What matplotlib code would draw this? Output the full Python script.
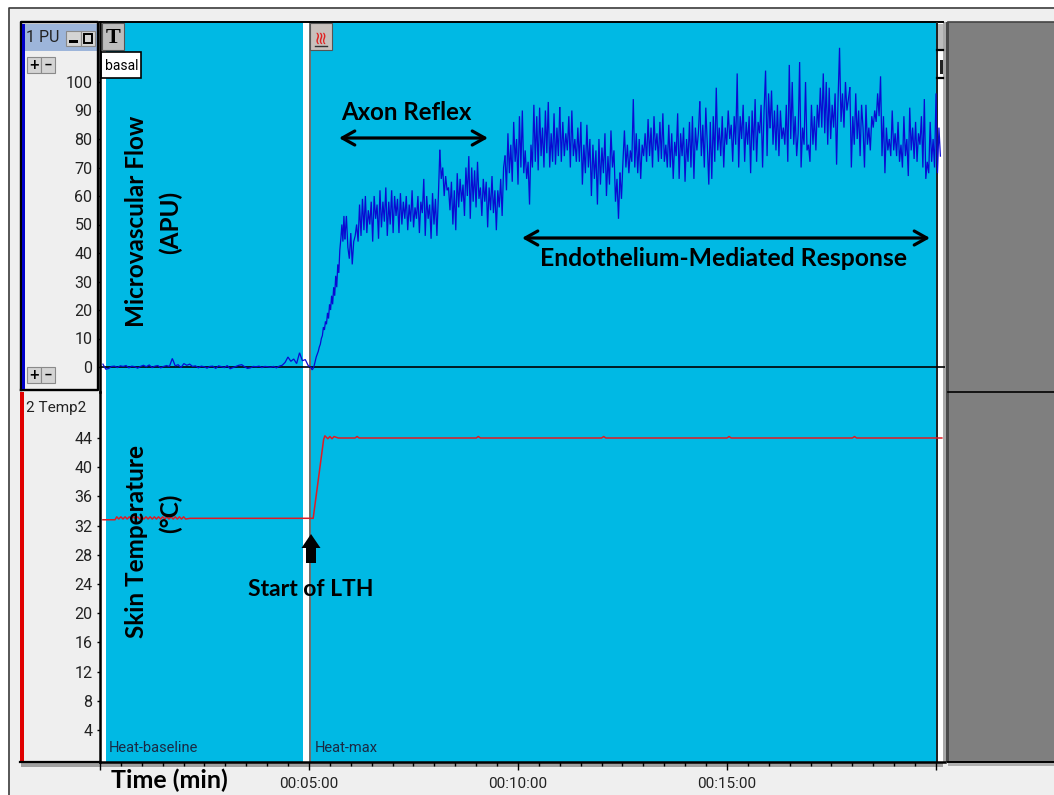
import numpy as np
import matplotlib
matplotlib.use("Agg")
import matplotlib.pyplot as plt
from matplotlib.patches import Rectangle, FancyArrow

W, H = 1054, 795

# ---------- data (minutes, APU, deg C) ----------
flow_ticks = [0, 10, 20, 30, 40, 50, 60, 70, 80, 90, 100]
temp_ticks = [4, 8, 12, 16, 20, 24, 28, 32, 36, 40, 44]
time_major = [0, 5, 10, 15, 20]
time_labels = ["", "00:05:00", "00:10:00", "00:15:00", ""]

segment_edges = [0.07, 5.05, 5.86, 8.13, 9.69, 11.0, 12.44, 14.35, 16.03, 17.94, 20.14]

flow_baseline = [1.0, -0.8, -0.5, 0.2, 0.3, -0.2, 0.4, 0.2, 0.5, -0.3, 0.3, 0.1, -0.4, 0.2, 0.6, 0.1,
                 0.7, -0.2, 0.3, 0.5, -0.3, 0.2, 0.5, 0.2, 3.0, 0.4, 0.8, -0.2, 1.2, 0.6, 1.0, 0.2,
                 0.4, -0.3, 0.3, 0.1, -0.4, 0.2, 0.3, -0.5, 0.4, 0.1, -0.2, 0.5, -0.6, -0.2, 0.2, 0.6,
                 0.8, 0.1, -0.5, -0.3, 0.2, 0.1, 0.3, -0.2, 0.2, 0.1, -0.1, 0.2, -0.3, 0.3, 0.6, 1.6,
                 3.5, 2.0, 2.8, 1.2, 5.0, 2.2, 2.6, 0.5]
flow_rise = [-0.2, -1.0, -0.5, 0.5, 2.0, 3.5, 4.5, 5.5, 7.0, 8.0, 10.0, 11.0, 14.0, 13.0, 16.0, 15.0,
             19.0, 17.0, 22.0, 20.0, 25.0, 22.0, 28.0, 25.0, 32.0, 28.0, 36.0, 33.0, 41.0, 45.0, 50.0, 44.0, 53.0]
flow_plateau = [45, 53, 42, 38, 47, 36, 44, 46, 50, 44, 57, 46, 59, 48, 60, 47, 55, 50, 58, 44, 60, 52, 57, 45,
                62, 49, 58, 51, 63, 46, 58, 50, 62, 47, 60, 53, 59, 47, 61, 50, 58, 52, 60, 48, 57, 51, 62, 49,
                56, 52, 60, 47, 58, 54, 66, 46, 60, 52, 57, 45, 61, 50, 59, 46, 60]
flow_axon = [76, 66, 70, 60, 67, 62, 63, 55, 65, 50, 62, 48, 68, 56, 66, 58, 64, 53, 70, 60, 74, 52, 70, 58,
             69, 56, 72, 59, 63, 53, 66, 58, 65, 49, 63, 55, 67, 54, 62, 48, 62, 56, 66, 53, 70]
flow_peak = [74, 62, 82, 68, 78, 65, 86, 72, 80, 64, 88, 70, 90, 68, 76, 66, 72, 57, 78, 70, 92, 72, 88, 69,
             91, 74, 84, 70, 90, 75, 93, 70, 82, 72, 89, 71, 84, 74]
flow_dip = [91, 72, 86, 74, 82, 76, 88, 70, 90, 74, 80, 72, 84, 72, 86, 64, 78, 68, 85, 70, 80, 60, 78, 66,
            76, 57, 80, 64, 77, 68, 82, 60, 74, 64, 83, 70, 76, 58, 66, 52]
flow_climb = [68, 59, 72, 83, 70, 78, 68, 76, 72, 94, 70, 82, 68, 80, 66, 78, 74, 82, 72, 87, 74, 84, 70, 88,
              76, 82, 72, 86, 73, 89, 72, 78, 70, 85, 70, 82, 66, 79, 74, 89, 66, 82, 74, 84, 65, 80, 72, 86,
              70, 88, 66, 84, 76, 82]
flow_rising = [93, 74, 85, 70, 91, 78, 64, 86, 66, 88, 72, 98, 76, 84, 74, 88, 70, 84, 78, 90, 80, 85, 72, 88,
               78, 103, 70, 88, 80, 92, 72, 86, 78, 88, 68, 90, 76, 94, 72, 86, 82, 92, 70, 90, 104, 74, 96]
flow_top = [84, 97, 78, 90, 76, 92, 74, 90, 80, 84, 78, 92, 72, 106, 80, 100, 78, 88, 74, 82, 107, 70, 84, 78,
            100, 76, 78, 72, 92, 78, 88, 76, 92, 84, 98, 84, 103, 82, 100, 78, 98, 80, 92, 84, 96, 71, 94, 112,
            86, 96, 84, 100, 90, 94]
flow_end = [98, 70, 88, 78, 96, 80, 90, 74, 92, 84, 70, 92, 78, 84, 76, 88, 84, 90, 86, 96, 88, 102, 74, 88,
            68, 84, 76, 80, 74, 90, 76, 82, 74, 86, 72, 78, 70, 88, 74, 80, 67, 91, 76, 84, 73, 86, 72, 82,
            78, 88, 70, 94, 66, 72, 68, 86, 72, 80, 70, 96, 68, 84, 74]
flow_segments = [flow_baseline, flow_rise, flow_plateau, flow_axon, flow_peak, flow_dip,
                 flow_climb, flow_rising, flow_top, flow_end]

temp_minutes = [0.07, 0.36, 0.40, 0.45, 0.50, 0.55, 0.60, 0.65, 0.70, 0.75, 0.80, 0.85, 0.90, 0.95, 1.00, 1.05,
                1.10, 1.15, 1.20, 1.25, 1.30, 1.35, 1.40, 1.45, 1.50, 1.55, 1.60, 1.65, 1.70, 1.75, 1.80, 1.85,
                1.90, 1.95, 2.00, 2.05, 2.15, 5.10, 5.35, 5.38, 5.45, 5.50, 5.55, 5.60, 5.70, 5.75, 6.10, 6.15,
                6.20, 9.00, 9.05, 9.10, 12.00, 12.05, 12.10, 15.00, 15.05, 15.10, 18.00, 18.05, 18.10, 20.14]
temp_values = [32.8, 32.8, 33.2, 32.9, 33.2, 32.9, 33.2, 32.9, 33.2, 32.9, 33.2, 32.9, 33.2, 32.9, 33.2, 32.9,
               33.2, 32.9, 33.2, 32.9, 33.2, 32.9, 33.2, 32.9, 33.2, 32.9, 33.2, 32.9, 33.2, 32.9, 33.2, 32.9,
               33.2, 32.9, 33.2, 32.9, 33.0, 33.0, 43.8, 44.3, 43.9, 44.2, 43.9, 44.2, 44.0, 44.0, 44.0, 44.2,
               44.0, 44.0, 44.2, 44.0, 44.0, 44.2, 44.0, 44.0, 44.2, 44.0, 44.0, 44.2, 44.0, 44.0]

# ---------- style ----------
NARROW = ["Roboto", "Liberation Sans", "DejaVu Sans"]
BOLD = ["Lato", "Open Sans", "DejaVu Sans"]
CYAN = "#00B9E4"
PANEL = "#EFEFEF"
BLUE = "#0A0AD2"
RED = "#E01B24"


def box(x0, y0, x1, y1):
    return [x0 / W, 1 - y1 / H, (x1 - x0) / W, (y1 - y0) / H]


fig = plt.figure(figsize=(W / 100, H / 100), dpi=100, facecolor="white")

# ---------- window chrome, in pixel coordinates ----------
bg = fig.add_axes([0, 0, 1, 1], zorder=0)
bg.set_xlim(0, W)
bg.set_ylim(H, 0)
bg.axis("off")


def rect(a, x0, y0, x1, y1, color, z=1, **kw):
    a.add_patch(Rectangle((x0, y0), x1 - x0, y1 - y0, facecolor=color, edgecolor=kw.pop("ec", "none"),
                          linewidth=kw.pop("lw", 0), zorder=z, **kw))


rect(bg, 10, 9, W, H, PANEL)
bg.plot([9, 9, W], [H, 8, 8], color="#3a3a3a", lw=1.2, zorder=2)
rect(bg, 102, 22, 936, 762, "white")
rect(bg, 106, 22, 303, 762, CYAN, z=2)
rect(bg, 311, 22, 936, 762, CYAN, z=2)
rect(bg, 309, 22, 311, 762, "#6e6e6e", z=3)
rect(bg, 938, 22, 943, 762, "white", z=2)
rect(bg, 943, 22, 947, 762, "#A8A8A8", z=2)
rect(bg, 948, 22, W, 762, "#7F7F7F", z=2)
rect(bg, 946, 22, 949, 762, "#4a4a4a", z=3)
bg.plot([100, 943], [22, 22], color="black", lw=1.4, zorder=4)
bg.plot([948, W], [22, 22], color="#444444", lw=1.2, zorder=4)
bg.plot([948, W], [392, 392], color="black", lw=1.2, zorder=4)
bg.plot([948, W], [762, 762], color="black", lw=1.4, zorder=4)
rect(bg, 21, 763, 943, 767, "#A0A0A0", z=2)
rect(bg, 948, 763, W, 766, "#B0B0B0", z=2)
rect(bg, 936, 22, 938, 762, "#222222", z=4)
rect(bg, 938, 24, 943, 50, "#BDBDBD", z=4)
bg.plot([937, 943], [50, 50], color="black", lw=1.6, zorder=5)
bg.plot([937, 943], [78, 78], color="black", lw=1.6, zorder=5)
rect(bg, 940, 60, 943, 74, "#222222", z=5)

# left label columns
rect(bg, 23, 24, 97, 51, "#9DB5DA", z=2)
rect(bg, 22, 24, 25, 389, "#0000C8", z=5)
rect(bg, 20, 392, 23.5, 762, "#E00000", z=3)
bg.plot([20.5, 20.5, 98, 98, 20.5], [390, 22, 22, 390, 390], color="black", lw=1.7, zorder=4)
bg.plot([20, 100], [762, 762], color="black", lw=1.6, zorder=4)
bg.text(26, 38, "1 PU", family=NARROW, fontsize=11.5, va="center", color="#222222", zorder=5)
for x0, x1, y0, y1 in [(66, 81, 31, 46), (81, 95, 31, 46), (27, 41, 57, 73), (41, 55, 57, 73),
                       (27, 41, 367, 383), (41, 55, 367, 383)]:
    rect(bg, x0, y0, x1, y1, "#D4D4D4", z=5, ec="#8a8a8a", lw=0.8)
rect(bg, 69, 40, 78, 43, "black", z=6)
rect(bg, 84, 34, 92, 43, "none", z=6, ec="black", lw=1.4)
for yc in (65, 375):
    bg.text(34, yc, "+", family=BOLD, fontsize=12, fontweight="bold", ha="center", va="center", zorder=6)
    bg.text(48, yc, "\u2013", family=BOLD, fontsize=11, fontweight="bold", ha="center", va="center", zorder=6)
bg.text(26, 408, "2 Temp2", family=NARROW, fontsize=11, va="center", color="#222222", zorder=5)

# event buttons
rect(bg, 102, 23, 124, 50, "#BDBDBD", z=5, ec="#555555", lw=0.8)
bg.text(113, 38, "T", family=["Liberation Serif", "DejaVu Serif"], fontsize=16, fontweight="bold",
        ha="center", va="center", zorder=6)
rect(bg, 101, 52, 141, 78, "white", z=6, ec="black", lw=1.2)
bg.text(105, 66, "basal", family=NARROW, fontsize=10, va="center", zorder=7)
rect(bg, 310, 23, 332, 50, "#C8C0BC", z=5, ec="#555555", lw=0.8)
bg.text(321, 36, "\u224b", family="DejaVu Sans", fontsize=13, color="#E02020", rotation=90,
        ha="center", va="center", zorder=6)
bg.plot([315, 327], [46, 46], color="#333333", lw=1, zorder=6)
bg.text(109, 748, "Heat-baseline", family=NARROW, fontsize=10.5, va="center", color="#1a2a44", zorder=5)
bg.text(315, 748, "Heat-max", family=NARROW, fontsize=10.5, va="center", color="#1a2a44", zorder=5)

# ---------- data axes ----------
px_per_min = 41.8
xlim = (0, (945 - 100) / px_per_min)
px_per_apu = 2.85
px_per_deg = 7.3

ax_flow = fig.add_axes(box(100, 22, 945, 392), zorder=1, facecolor="none")
ax_flow.set_xlim(*xlim)
ax_flow.set_ylim((367 - 392) / px_per_apu, (367 - 22) / px_per_apu)
ax_temp = fig.add_axes(box(100, 392, 945, 762), zorder=1, facecolor="none")
ax_temp.set_xlim(*xlim)
ax_temp.set_ylim(4 - (762 - 730) / px_per_deg, 44 + (438 - 392) / px_per_deg)

ax_flow.axhline(0, color="black", lw=1.2, zorder=2)
for k, seg in enumerate(flow_segments):
    t = np.linspace(segment_edges[k], segment_edges[k + 1], len(seg), endpoint=False)
    if k + 1 < len(flow_segments):
        t = np.append(t, segment_edges[k + 1])
        seg = list(seg) + [flow_segments[k + 1][0]]
    ax_flow.plot(t, seg, color=BLUE, lw=0.9, zorder=3, solid_joinstyle="miter")
ax_temp.plot(temp_minutes, temp_values, color=RED, lw=1.1, zorder=3)

for a in (ax_flow, ax_temp):
    for s in ("top", "right", "bottom"):
        a.spines[s].set_visible(False)
    a.spines["left"].set_linewidth(1.8)
    a.tick_params(axis="y", length=2.5, width=1, pad=3, labelsize=11.5, labelcolor="#222222")

ax_flow.set_yticks(flow_ticks)
ax_temp.set_yticks(temp_ticks)
for a in (ax_flow, ax_temp):
    for lab in a.get_yticklabels():
        lab.set_family(NARROW)
ax_flow.set_xticks([])
ax_temp.spines["bottom"].set_visible(True)
ax_temp.spines["bottom"].set_linewidth(1.8)
ax_temp.set_xticks(time_major)
ax_temp.set_xticklabels(time_labels, family=NARROW, fontsize=11, color="#222222")
ax_temp.set_xticks(np.arange(0, 20.5, 0.5), minor=True)
ax_temp.tick_params(axis="x", which="major", length=6, width=1, pad=5)
ax_temp.tick_params(axis="x", which="minor", length=3, width=1)

# ---------- slide annotations ----------
top = fig.add_axes([0, 0, 1, 1], zorder=2, facecolor="none")
top.set_xlim(0, W)
top.set_ylim(H, 0)
top.axis("off")

bold = dict(family=BOLD, fontweight="bold", color="black", ha="center", va="center")
top.text(137, 221, "Microvascular Flow", rotation=90, fontsize=17.5, **bold)
top.text(170, 222, "(APU)", rotation=90, fontsize=17.5, **bold)
top.text(137, 542, "Skin Temperature", rotation=90, fontsize=17.5, **bold)
top.text(170, 513, "(\u00b0C)", rotation=90, fontsize=17.5, **bold)
top.text(406, 112, "Axon Reflex", fontsize=17.3, **bold)
top.text(724, 259, "Endothelium-Mediated Response", fontsize=17.8, **bold)
top.text(311, 589, "Start of LTH", fontsize=16.5, **bold)
top.text(169, 780, "Time (min)", fontsize=18, **bold)

for x0, x1, y in [(339, 488, 138), (522, 930, 238)]:
    top.annotate("", xy=(x1, y), xytext=(x0, y),
                 arrowprops=dict(arrowstyle="<->,head_length=0.5,head_width=0.28", color="black",
                                 lw=2.3, shrinkA=0, shrinkB=0, mutation_scale=18))
top.add_patch(FancyArrow(311, 563, 0, -29, width=10, head_width=19, head_length=14,
                         length_includes_head=True, color="black", lw=0))

fig.savefig("out.png", dpi=100)
